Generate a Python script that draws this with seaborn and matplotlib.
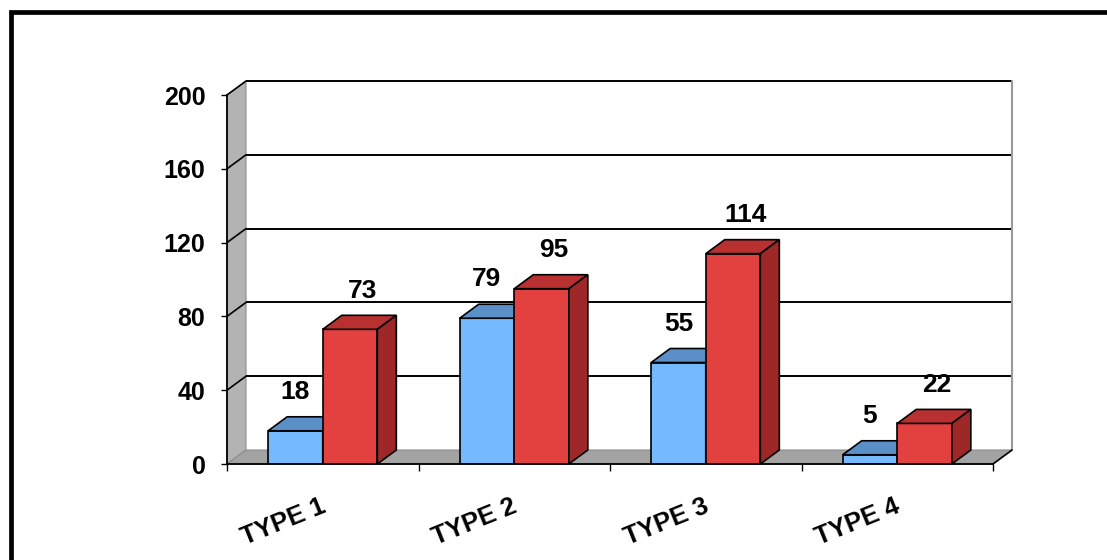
import matplotlib
matplotlib.use("Agg")
import matplotlib.pyplot as plt
import matplotlib.transforms as mtransforms
from matplotlib.patches import Polygon, Rectangle
import pandas as pd
import seaborn as sns

# ---- data ----
categories = ["TYPE 1", "TYPE 2", "TYPE 3", "TYPE 4"]
series_names = ["Series 1", "Series 2"]
series_1 = [18, 79, 55, 5]
series_2 = [73, 95, 114, 22]
y_ticks = [0, 40, 80, 120, 160, 200]

# ---- styling ----
BLUE_FRONT, BLUE_TOP, BLUE_SIDE = "#75B9FF", "#5B8FC8", "#4F7FB5"
RED_FRONT, RED_TOP, RED_SIDE = "#E34040", "#B83030", "#9E2828"
WALL, FLOOR = "#B3B3B3", "#A3A3A3"
DEPTH_PX = (19, 14)  # oblique depth of the 3-D box, in pixels

sns.set_theme(style="white")
plt.rcParams["font.family"] = ["Liberation Sans", "DejaVu Sans"]
plt.rcParams["font.weight"] = "bold"

fig = plt.figure(figsize=(11.07, 5.6), dpi=100)
ax = fig.add_axes([227 / 1107, 96 / 560, 766 / 1107, 369 / 560])

df = pd.DataFrame({
    "type": categories * 2,
    "value": series_1 + series_2,
    "series": [series_names[0]] * len(categories) + [series_names[1]] * len(categories),
})

sns.barplot(data=df, x="type", y="value", hue="series", order=categories,
            hue_order=series_names, palette=[BLUE_FRONT, RED_FRONT],
            saturation=1, width=0.57, edgecolor="black", linewidth=1.2,
            errorbar=None, legend=False, ax=ax)

x_lo, x_hi = -0.5, len(categories) - 0.5
ax.set_xlim(x_lo, x_hi)
ax.set_ylim(y_ticks[0], y_ticks[-1])
ax.patch.set_visible(False)

# depth offset converted to data units
fig.canvas.draw()
inv = ax.transData.inverted()
o = ax.transData.transform((0, 0))
ddx, ddy = inv.transform((o[0] + DEPTH_PX[0], o[1] + DEPTH_PX[1])) - inv.transform(o)

# side wall and floor
ax.add_patch(Polygon([(x_lo, 0), (x_lo, y_ticks[-1]), (x_lo + ddx, y_ticks[-1] + ddy),
                      (x_lo + ddx, ddy)], closed=True, facecolor=WALL,
                     edgecolor="#8c8c8c", linewidth=0.8, zorder=0.3, clip_on=False))
ax.add_patch(Polygon([(x_lo, 0), (x_lo + ddx, ddy), (x_hi + ddx, ddy), (x_hi, 0)],
                     closed=True, facecolor=FLOOR, edgecolor="#8c8c8c",
                     linewidth=0.8, zorder=0.3, clip_on=False))
ax.plot([x_hi, x_hi + ddx], [0, ddy], color="black", lw=1.2, zorder=0.6, clip_on=False)

# back wall gridlines and wall diagonals
for v in y_ticks[1:]:
    ax.plot([x_lo + ddx, x_hi + ddx], [v + ddy, v + ddy], color="black", lw=1.4,
            zorder=0.5, clip_on=False, solid_capstyle="butt")
    ax.plot([x_lo, x_lo + ddx], [v, v + ddy], color="black", lw=1.2,
            zorder=0.5, clip_on=False)
ax.plot([x_hi + ddx, x_hi + ddx], [ddy, y_ticks[-1] + ddy], color="#9a9a9a", lw=1.5,
        zorder=0.5, clip_on=False)

# 3-D faces for each bar, plus the value label
bars = [p for p in ax.patches if isinstance(p, Rectangle) and p.get_height() > 0]
label_dx = [0.0, ddx * 0.65]
for i, bar in enumerate(bars):
    series_idx = i // len(categories)
    z = 2 + series_idx
    bar.set_zorder(z)
    x0, w, h = bar.get_x(), bar.get_width(), bar.get_height()
    x1 = x0 + w
    top_c, side_c = (BLUE_TOP, BLUE_SIDE) if series_idx == 0 else (RED_TOP, RED_SIDE)
    ax.add_patch(Polygon([(x0, h), (x1, h), (x1 + ddx, h + ddy), (x0 + ddx, h + ddy)],
                         closed=True, facecolor=top_c, edgecolor="black",
                         linewidth=1.2, zorder=z, clip_on=False))
    ax.add_patch(Polygon([(x1, 0), (x1, h), (x1 + ddx, h + ddy), (x1 + ddx, ddy)],
                         closed=True, facecolor=side_c, edgecolor="black",
                         linewidth=1.2, zorder=z, clip_on=False))
    ax.text(x0 + w / 2 + label_dx[series_idx], h + 21, f"{h:g}", ha="center",
            va="center", fontsize=19, fontweight="bold", color="black",
            zorder=6, clip_on=False)

# axes lines and ticks
for s in ("top", "right"):
    ax.spines[s].set_visible(False)
for s in ("left", "bottom"):
    ax.spines[s].set_visible(True)
    ax.spines[s].set_color("black")
    ax.spines[s].set_linewidth(1.3)
    ax.spines[s].set_zorder(4)

ax.set_yticks(y_ticks)
ax.set_yticklabels([str(t) for t in y_ticks])
ax.tick_params(axis="y", left=True, direction="out", length=4.5, width=1,
               color="black", labelsize=18, pad=11, labelcolor="black")
ax.set_xticks([x_lo + k for k in range(len(categories) + 1)], minor=True)
ax.tick_params(axis="x", which="minor", bottom=True, direction="out", length=5,
               width=1, color="black")
ax.tick_params(axis="x", which="major", bottom=False, length=0, pad=22,
               labelsize=18.5, labelcolor="black")
ax.set_xlabel("")
ax.set_ylabel("")
shift = mtransforms.ScaledTranslation(-3 / 100, 0, fig.dpi_scale_trans)
for lab in ax.get_xticklabels():
    lab.set_rotation(22)
    lab.set_ha("right")
    lab.set_va("top")
    lab.set_rotation_mode("anchor")
    lab.set_fontweight("bold")
    lab.set_transform(lab.get_transform() + shift)
for lab in ax.get_yticklabels():
    lab.set_fontweight("bold")

# outer chart frame
fig.patches.append(Rectangle((10.8 / 1107, -0.2), 1.5, 1.2 - 12 / 560,
                             transform=fig.transFigure, fill=False,
                             edgecolor="black", linewidth=3.4, zorder=10))

fig.savefig("out.png", dpi=100)
